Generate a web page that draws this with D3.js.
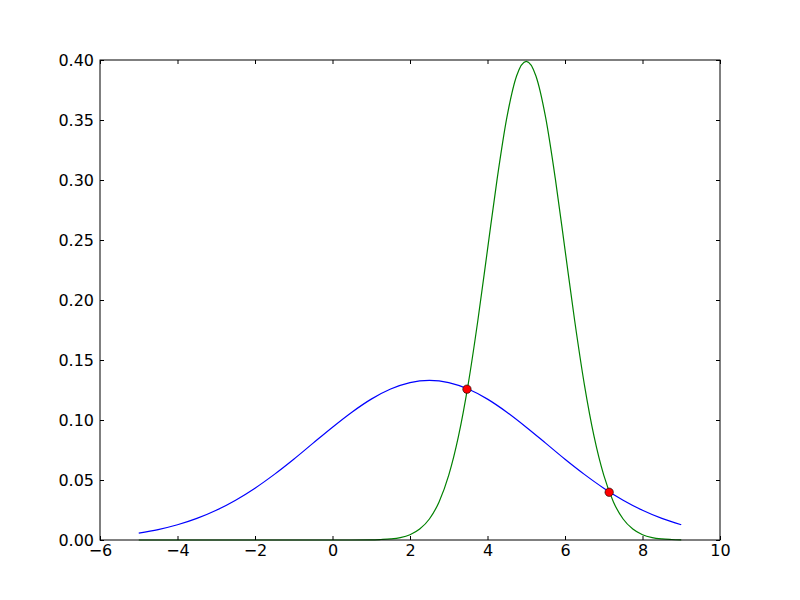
<!DOCTYPE html>
<html>
<head>
<meta charset="utf-8">
<script src="https://cdn.jsdelivr.net/npm/d3@7"></script>
<style>
  body { margin: 0; background: #fff; }
  text { font-family: "DejaVu Sans", sans-serif; font-size: 16px; fill: #000; }
</style>
</head>
<body>
<svg id="chart"></svg>
<script>
// curva azul (ancha)
var blueX = [-5, -4.5, -4, -3.5, -3, -2.5, -2, -1.5, -1, -0.5, 0, 0.5, 1, 1.5, 2, 2.5,
  3, 3.5, 4, 4.5, 5, 5.5, 6, 6.5, 7, 7.5, 8, 8.5, 9];
var blueY = [0.0058, 0.0087, 0.0127, 0.0180, 0.0248, 0.0332, 0.0432, 0.0547, 0.0673, 0.0807,
  0.0940, 0.1065, 0.1174, 0.1258, 0.1312, 0.1330, 0.1312, 0.1258, 0.1174, 0.1065, 0.0940,
  0.0807, 0.0673, 0.0547, 0.0432, 0.0332, 0.0248, 0.0180, 0.0127];

// curva verde (estrecha)
var greenX = [-5, -4, -3, -2, -1, 0, 1, 1.25, 1.5, 1.75, 2, 2.25, 2.5, 2.75, 3, 3.25, 3.5,
  3.75, 4, 4.25, 4.5, 4.75, 5, 5.25, 5.5, 5.75, 6, 6.25, 6.5, 6.75, 7, 7.25, 7.5, 7.75, 8,
  8.25, 8.5, 8.75, 9];
var greenY = [0, 0, 0, 0, 0, 0, 0.0001, 0.0004, 0.0009, 0.0020, 0.0044, 0.0091, 0.0175,
  0.0317, 0.0540, 0.0863, 0.1295, 0.1827, 0.2420, 0.3011, 0.3521, 0.3867, 0.3989, 0.3867,
  0.3521, 0.3011, 0.2420, 0.1827, 0.1295, 0.0863, 0.0540, 0.0317, 0.0175, 0.0091, 0.0044,
  0.0020, 0.0009, 0.0004, 0.0001];

// puntos de interseccion
var crossX = [3.47, 7.14];
var crossY = [0.1257, 0.0398];

var xTicks = [-6, -4, -2, 0, 2, 4, 6, 8, 10];
var yTicks = [0, 0.05, 0.10, 0.15, 0.20, 0.25, 0.30, 0.35, 0.40];

var margin = { top: 60, right: 80, bottom: 60, left: 100 };
var width = 800 - margin.left - margin.right;
var height = 600 - margin.top - margin.bottom;

var svg = d3.select("#chart")
    .attr("width", 800)
    .attr("height", 600)
    .append("g")
    .attr("transform", "translate(" + margin.left + "," + margin.top + ")");

var xScale = d3.scaleLinear().range([0, width]).domain([-6, 10]);
var yScale = d3.scaleLinear().range([height, 0]).domain([0, 0.40]);

var line = d3.line()
    .x(function(d) { return xScale(d[0]); })
    .y(function(d) { return yScale(d[1]); })
    .curve(d3.curveMonotoneX);

svg.append("path")
    .datum(d3.zip(blueX, blueY))
    .attr("d", line)
    .attr("fill", "none")
    .attr("stroke", "#0000ff")
    .attr("stroke-width", 1.2);

svg.append("path")
    .datum(d3.zip(greenX, greenY))
    .attr("d", line)
    .attr("fill", "none")
    .attr("stroke", "#008000")
    .attr("stroke-width", 1.2);

svg.selectAll(".dot")
    .data(d3.zip(crossX, crossY))
    .enter().append("circle")
    .attr("class", "dot")
    .attr("r", 4.2)
    .attr("cx", function(d) { return xScale(d[0]); })
    .attr("cy", function(d) { return yScale(d[1]); })
    .attr("fill", "#ff0000")
    .attr("stroke", "#000")
    .attr("stroke-width", 0.6);

// ejes con ticks hacia dentro, en los cuatro lados
var fmtY = d3.format(".2f");
function styleAxis(g) {
  g.select(".domain").remove();
  g.selectAll(".tick line").attr("stroke", "#000");
}

svg.append("g")
    .attr("transform", "translate(0," + height + ")")
    .call(d3.axisBottom(xScale).tickValues(xTicks).tickSizeInner(-4).tickSizeOuter(0).tickPadding(5))
    .call(styleAxis);
svg.append("g")
    .call(d3.axisTop(xScale).tickValues(xTicks).tickSizeInner(-4).tickSizeOuter(0).tickFormat(""))
    .call(styleAxis);
svg.append("g")
    .call(d3.axisLeft(yScale).tickValues(yTicks).tickFormat(fmtY).tickSizeInner(-4).tickSizeOuter(0).tickPadding(6))
    .call(styleAxis);
svg.append("g")
    .attr("transform", "translate(" + width + ",0)")
    .call(d3.axisRight(yScale).tickValues(yTicks).tickSizeInner(-4).tickSizeOuter(0).tickFormat(""))
    .call(styleAxis);

svg.selectAll(".tick text").attr("font-family", null).attr("font-size", null);

svg.append("rect")
    .attr("width", width)
    .attr("height", height)
    .attr("fill", "none")
    .attr("stroke", "#000")
    .attr("stroke-width", 1);
</script>
</body>
</html>
